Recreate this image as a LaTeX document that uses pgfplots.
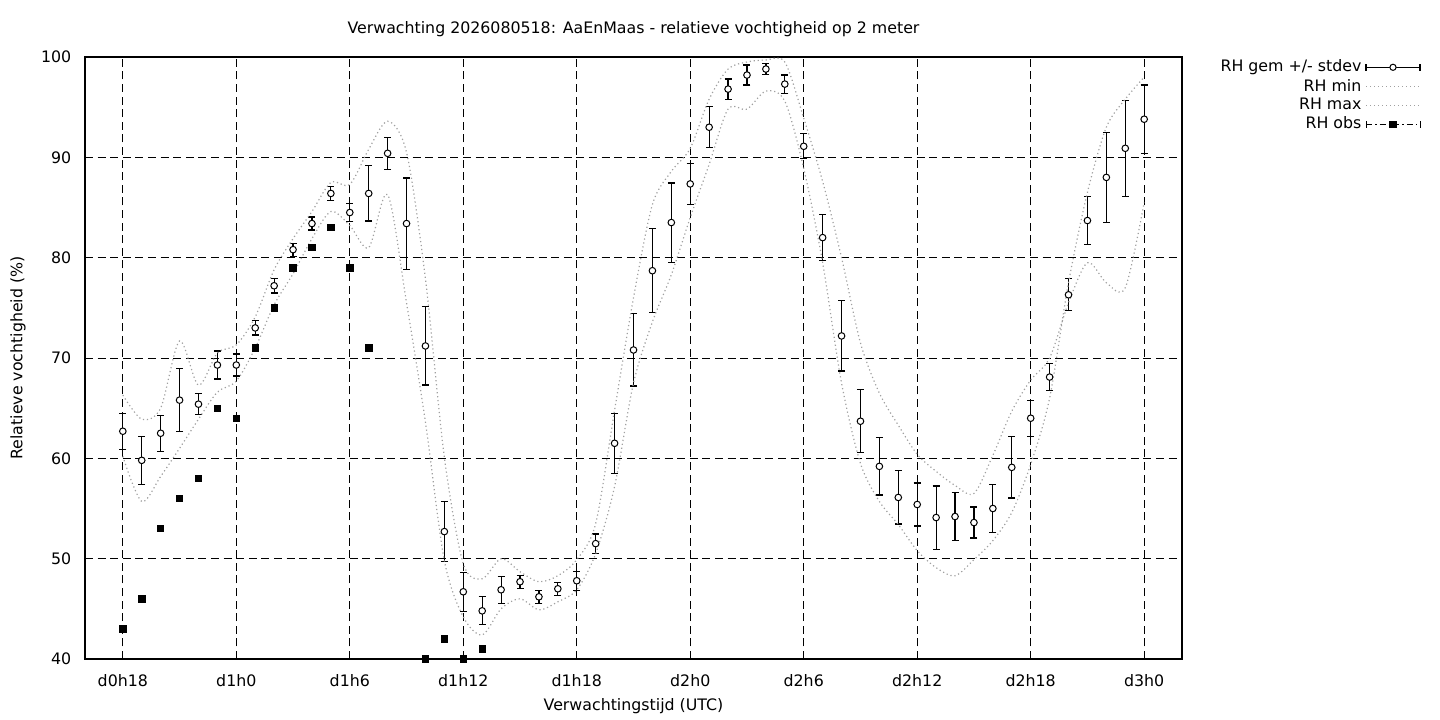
\documentclass[border=0pt]{standalone}
\usepackage{pgfplots}
\pgfplotsset{compat=1.18}
\usepackage{pgfplotstable}
\usepackage{fontspec}
\setmainfont{DejaVu Sans}
\newcommand\fnt{\fontsize{7.9bp}{9.5bp}\selectfont}
\definecolor{dotgray}{RGB}{160,160,160}

\pgfplotstableread{
h m sd
18 62.7 1.8
19 59.8 2.4
20 62.5 1.8
21 65.8 3.15
22 65.4 1.05
23 69.3 1.4
24 69.3 1.1
25 73.0 0.7
26 77.2 0.73
27 80.8 0.65
28 83.4 0.65
29 86.4 0.7
30 84.5 0.9
31 86.4 2.75
32 90.4 1.6
33 83.4 4.55
34 71.2 3.9
35 52.7 3.0
36 46.7 1.95
37 44.8 1.4
38 46.9 1.35
39 47.7 0.65
40 46.2 0.65
41 47.0 0.65
42 47.8 0.95
43 51.5 0.95
44 61.5 3.0
45 70.8 3.6
46 78.7 4.2
47 83.5 3.95
48 87.35 2.05
49 93.0 2.05
50 96.8 1.0
51 98.2 1.0
52 98.8 0.55
53 97.3 0.9
54 91.1 1.25
55 82.0 2.3
56 72.2 3.5
57 63.7 3.15
58 59.2 2.85
59 56.1 2.65
60 55.4 2.15
61 54.1 3.15
62 54.2 2.4
63 53.6 1.55
64 55.0 2.4
65 59.1 3.05
66 64.0 1.8
67 68.1 1.35
68 76.3 1.6
69 83.7 2.4
70 88.0 4.5
71 90.9 4.8
72 93.8 3.4
}\meantab

\pgfplotstableread{
h mn mx
18 60.2 66.3
19 55.7 63.9
20 58.2 65.0
21 61.0 71.7
22 63.9 67.3
23 66.6 70.5
24 67.7 71.3
25 71.0 74.1
26 75.3 78.8
27 78.4 81.9
28 81.9 84.6
29 84.6 87.5
30 83.2 87.3
31 81.0 90.8
32 86.3 93.6
33 75.5 90.5
34 63.6 77.9
35 49.8 60.1
36 44.2 49.5
37 42.4 48.0
38 45.0 50.0
39 46.0 48.7
40 44.9 47.7
41 45.7 48.3
42 46.9 49.9
43 50.5 53.5
44 57.2 64.8
45 67.5 76.0
46 73.6 85.3
47 78.3 88.6
48 84.0 90.9
49 89.3 95.8
50 94.8 98.8
51 94.8 99.5
52 96.6 99.7
53 95.6 99.5
54 88.9 93.9
55 79.5 87.6
56 67.5 80.0
57 59.5 71.5
58 55.7 66.5
59 53.4 63.3
60 50.8 60.4
61 49.1 58.7
62 48.3 57.3
63 49.9 56.5
64 51.8 60.3
65 54.6 64.7
66 59.4 67.8
67 66.0 70.0
68 77.5 75.5
69 86.5 79.5
70 93.0 77.5
71 95.8 77.0
72 98.0 85.5
}\mmtab

\pgfplotstableread{
h v
18 43
19 46
20 53
21 56
22 58
23 65
24 64
25 71
26 75
27 79
28 81
29 83
30 79
31 71
34 40
35 42
36 40
37 41
}\obstab

\begin{document}
\begin{tikzpicture}
\path[use as bounding box] (-42.5bp,-30.5bp) rectangle (677.5bp,329.5bp);
\begin{axis}[
  at={(0,0)}, anchor=south west,
  scale only axis, width=548.5bp, height=301bp,
  xmin=16, xmax=74, ymin=40, ymax=100,
  xtick={18,24,...,72},
  xticklabels={d0h18,d1h0,d1h6,d1h12,d1h18,d2h0,d2h6,d2h12,d2h18,d3h0},
  ytick={40,50,...,100},
  grid=major,
  major grid style={black, line width=0.5bp, dash pattern=on 4bp off 2.3bp},
  major tick length=0pt,
  axis line style={line width=0.6bp},
  /pgf/number format/assume math mode=true,
  tick label style={font=\fnt},
  yticklabel style={xshift=-3.4bp},
  xticklabel style={yshift=-4.2bp},
  clip=false,
  every axis title shift=0pt,
  title={Verwachting 2026080518: AaEnMaas - relatieve vochtigheid op 2 meter},
  title style={at={([yshift=14bp]axis description cs:0.5,1)}, anchor=center, font=\fnt},
  xlabel={Verwachtingstijd (UTC)},
  xlabel style={at={([yshift=-23.5bp]axis description cs:0.5,0)}, anchor=center, font=\fnt},
  ylabel={Relatieve vochtigheid (\%)},
  ylabel style={at={([xshift=-33.5bp]axis description cs:0,0.5)}, anchor=center, font=\fnt},
  legend plot pos=right,
  legend cell align=right,
  legend style={at={([xshift=119.5bp,yshift=-1.2bp]axis description cs:1,1)}, anchor=north east,
    draw=none, fill=none, inner sep=0pt, row sep=2.1bp, column sep=2bp, font=\fnt,
    nodes={inner sep=0pt}},
]
% error bars (drawn first, below the circles)
\addplot[forget plot, draw=none, mark=none,
  error bars/.cd, y dir=both, y explicit,
  error bar style={black, line width=0.6bp, solid},
  error mark options={black, line width=0.6bp, mark size=1.75bp, rotate=90, solid}]
  table[x=h, y=m, y error=sd] {\meantab};
\addplot[only marks, mark=*, mark size=1.65bp,
  mark options={fill=white, draw=black, line width=0.5bp},
  legend image code/.code={
    \draw[black, line width=0.6bp] (0bp,0bp) -- (27bp,0bp);
    \draw[black, line width=0.6bp] (0bp,-1.75bp) -- (0bp,1.75bp);
    \draw[black, line width=0.6bp] (27bp,-1.75bp) -- (27bp,1.75bp);
    \draw[black, fill=white, line width=0.5bp] (13.5bp,0bp) circle (1.55bp);}]
  table[x=h, y=m] {\meantab};
\addlegendentry{RH gem +/- stdev}
\addplot[dotgray, line width=0.6bp, dash pattern=on 0.6bp off 1.4bp, smooth, no marks,
  legend image code/.code={\draw[dotgray, line width=0.6bp, dash pattern=on 0.6bp off 1.4bp] (0bp,0bp) -- (27bp,0bp);}]
  table[x=h, y=mn] {\mmtab};
\addlegendentry{RH min}
\addplot[dotgray, line width=0.6bp, dash pattern=on 0.6bp off 1.4bp, smooth, no marks,
  legend image code/.code={\draw[dotgray, line width=0.6bp, dash pattern=on 0.6bp off 1.4bp] (0bp,0bp) -- (27bp,0bp);}]
  table[x=h, y=mx] {\mmtab};
\addlegendentry{RH max}
\addplot[only marks, mark=square*, mark size=1.6bp, black,
  legend image code/.code={
    \draw[black, line width=0.5bp, dash pattern=on 3bp off 1.5bp on 0.8bp off 1.5bp] (0bp,0bp) -- (27bp,0bp);
    \draw[black, line width=0.5bp] (0bp,-1.75bp) -- (0bp,1.75bp);
    \draw[black, line width=0.5bp] (27bp,-1.75bp) -- (27bp,1.75bp);
    \fill[black] (11.9bp,-1.6bp) rectangle (15.1bp,1.6bp);}]
  table[x=h, y=v] {\obstab};
\addlegendentry{RH obs}
\end{axis}
\end{tikzpicture}
\end{document}
